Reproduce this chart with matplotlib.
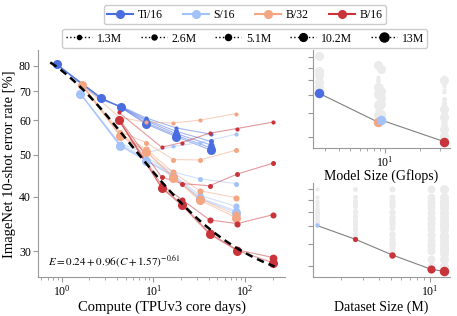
import matplotlib

matplotlib.use("Agg")
import matplotlib.pyplot as plt
import numpy as np
from matplotlib.lines import Line2D
from matplotlib.ticker import NullLocator

# models and dataset sizes
MODEL_NAMES = ["Ti/16", "S/16", "B/32", "B/16"]
MODEL_GFLOPS = [2.65, 9.2, 8.7, 32.5]
DATASET_NAMES = ["1.3M", "2.6M", "5.1M", "10.2M", "13M"]
DATASET_SIZES_M = [1.3, 2.6, 5.1, 10.2, 13.0]

# compute (TPUv3 core days) per training length, one list per model
COMPUTE_TI = [0.88, 2.7, 4.4, 8.3, 17.6, 42.5]
COMPUTE_S = [1.6, 4.3, 8.3, 16.5, 32.0, 80.0]
COMPUTE_B32 = [1.65, 4.3, 8.3, 16.5, 32.0, 80.0]
COMPUTE_B16 = [4.2, 12.3, 20.5, 41.0, 82.0, 203.0]

# 10-shot error [%], rows follow DATASET_NAMES
ERROR_TI = [
    [80.6, 66.8, 64.6, 60.7, 57.6, 55.7],
    [80.6, 67.2, 64.4, 60.2, 56.6, 53.6],
    [80.6, 67.4, 64.3, 59.8, 55.9, 52.6],
    [80.6, 67.5, 64.2, 59.2, 55.4, 51.8],
    [80.6, 67.5, 64.2, 58.8, 55.0, 51.2],
]
ERROR_S = [
    [69.0, 53.0, 50.5, 52.2, 53.3, 55.7],
    [69.0, 52.8, 49.2, 45.6, 44.0, 42.9],
    [69.0, 52.6, 48.7, 45.0, 40.3, 38.0],
    [69.0, 52.5, 48.5, 44.7, 39.8, 37.1],
    [69.0, 52.4, 48.4, 44.5, 39.6, 36.8],
]
ERROR_B32 = [
    [72.4, 60.8, 59.4, 59.1, 60.0, 62.1],
    [72.4, 56.5, 53.3, 48.7, 48.6, 51.2],
    [72.4, 55.8, 51.5, 45.5, 41.3, 39.8],
    [72.4, 55.4, 51.0, 44.5, 39.6, 36.3],
    [72.4, 55.3, 50.8, 44.2, 39.3, 35.8],
]
ERROR_B16 = [
    [62.5, 52.0, 53.3, 56.0, 57.4, 59.4],
    [60.5, 44.4, 42.9, 42.4, 45.1, 47.8],
    [60.2, 42.6, 39.4, 35.4, 34.7, 36.4],
    [60.0, 42.0, 38.5, 33.0, 30.2, 29.0],
    [60.0, 41.9, 38.2, 32.8, 30.1, 28.2],
]

# fitted law E = a + b (C + c)^k
FIT_A, FIT_B, FIT_C, FIT_K = 0.24, 0.96, 1.57, -0.61

COMPUTE = [COMPUTE_TI, COMPUTE_S, COMPUTE_B32, COMPUTE_B16]
ERRORS = [ERROR_TI, ERROR_S, ERROR_B32, ERROR_B16]

COLORS = ["#4a6ee0", "#a3c2fa", "#f4a582", "#c9343a"]
MARKER_SIZES = [3.0, 3.6, 4.4, 5.6, 6.5]
GREY_DOT = "#ebebeb"
SPINE = "#999999"

plt.rcParams["font.family"] = ["Liberation Serif", "DejaVu Serif"]
plt.rcParams["mathtext.fontset"] = "stix"


def style_axis(ax):
    for side in ("top", "right"):
        ax.spines[side].set_visible(False)
    for side in ("left", "bottom"):
        ax.spines[side].set_color(SPINE)
    ax.tick_params(which="both", color=SPINE, labelsize=8.5, pad=1.5)
    ax.tick_params(which="major", length=3.5)
    ax.tick_params(which="minor", length=2)


fig = plt.figure(figsize=(4.57, 3.16), dpi=100)
ax = fig.add_axes([0.083, 0.122, 0.541, 0.720])
ax_model = fig.add_axes([0.684, 0.532, 0.301, 0.310], sharey=ax)
ax_data = fig.add_axes([0.684, 0.122, 0.301, 0.300], sharey=ax)

# main panel
for m, color in enumerate(COLORS):
    for d, size in enumerate(MARKER_SIZES):
        ax.plot(COMPUTE[m], ERRORS[m][d], color=color, lw=0.8, alpha=0.5, zorder=2)
        ax.plot(COMPUTE[m], ERRORS[m][d], "o", color=color, ms=size, mew=0, zorder=3)

fit_x = np.geomspace(0.75, 210, 200)
fit_y = 100 * (FIT_A + FIT_B * (fit_x + FIT_C) ** FIT_K)
ax.plot(fit_x, fit_y, color="black", lw=1.8, ls=(0, (3, 2)), zorder=5)
ax.text(0.04, 0.07, r"$E = 0.24 + 0.96(C + 1.57)^{-0.61}$", transform=ax.transAxes,
        fontsize=8, va="center", ha="left")

ax.set_xscale("log")
ax.set_yscale("log")
ax.set_xlim(0.55, 274)
ax.set_ylim(26.1, 87)
ax.set_yticks([30, 40, 50, 60, 70, 80])
ax.set_yticklabels(["30", "40", "50", "60", "70", "80"])
ax.yaxis.set_minor_locator(NullLocator())
ax.set_xlabel("Compute (TPUv3 core days)", fontsize=10.5, labelpad=1)
ax.set_ylabel("ImageNet 10-shot error rate [%]", fontsize=10.5, labelpad=2)
style_axis(ax)

# model size panel: every run in grey, best per model in colour
best_model = []
for m, color in enumerate(COLORS):
    for d, size in enumerate(MARKER_SIZES):
        ax_model.plot([MODEL_GFLOPS[m]] * len(ERRORS[m][d]), ERRORS[m][d], "o",
                      color=GREY_DOT, ms=size, mew=0, zorder=1)
    flat = np.array(ERRORS[m])
    d_best = int(np.argmin(flat.min(axis=1)))
    best_model.append((MODEL_GFLOPS[m], flat.min(), color, MARKER_SIZES[d_best]))
best_model.sort()
ax_model.plot([b[0] for b in best_model], [b[1] for b in best_model], color="#808080", lw=0.8, zorder=2)
for x, y, color, size in best_model:
    ax_model.plot(x, y, "o", color=color, ms=size * 1.05, mew=0, zorder=3)
ax_model.set_xscale("log")
ax_model.set_xlim(2.35, 36.7)
ax_model.set_xlabel("Model Size (Gflops)", fontsize=10, labelpad=0)

# dataset size panel: best model per dataset size
best_data = []
for d, size in enumerate(MARKER_SIZES):
    runs = []
    for m, color in enumerate(COLORS):
        ax_data.plot([DATASET_SIZES_M[d]] * len(ERRORS[m][d]), ERRORS[m][d], "o",
                     color=GREY_DOT, ms=size, mew=0, zorder=1)
        runs.append((min(ERRORS[m][d]), color))
    err, color = min(runs)
    best_data.append((DATASET_SIZES_M[d], err, color, size))
ax_data.plot([b[0] for b in best_data], [b[1] for b in best_data], color="#808080", lw=0.8, zorder=2)
for x, y, color, size in best_data:
    ax_data.plot(x, y, "o", color=color, ms=size * 1.05, mew=0, zorder=3)
ax_data.set_xscale("log")
ax_data.set_xlim(1.2, 14.5)
ax_data.set_xlabel("Dataset Size (M)", fontsize=10, labelpad=1)

for a in (ax_model, ax_data):
    style_axis(a)
    a.tick_params(axis="y", labelleft=False)

# legends
model_handles = [Line2D([], [], color=c, lw=1.5, marker="o", ms=5.5) for c in COLORS]
fig.legend(model_handles, MODEL_NAMES, loc="center", bbox_to_anchor=(0.536, 0.953), ncol=4,
           fontsize=8.5, handlelength=2.2, columnspacing=1.7, handletextpad=0.4,
           borderpad=0.3, framealpha=1)
data_handles = [Line2D([], [], color="black", lw=1, ls=":", marker="o", ms=s) for s in MARKER_SIZES]
fig.legend(data_handles, DATASET_NAMES, loc="center", bbox_to_anchor=(0.536, 0.878), ncol=5,
           fontsize=8.5, handlelength=2.2, columnspacing=1.6, handletextpad=0.4,
           borderpad=0.3, framealpha=1)

fig.savefig("out.png", dpi=100)
plt.close(fig)
